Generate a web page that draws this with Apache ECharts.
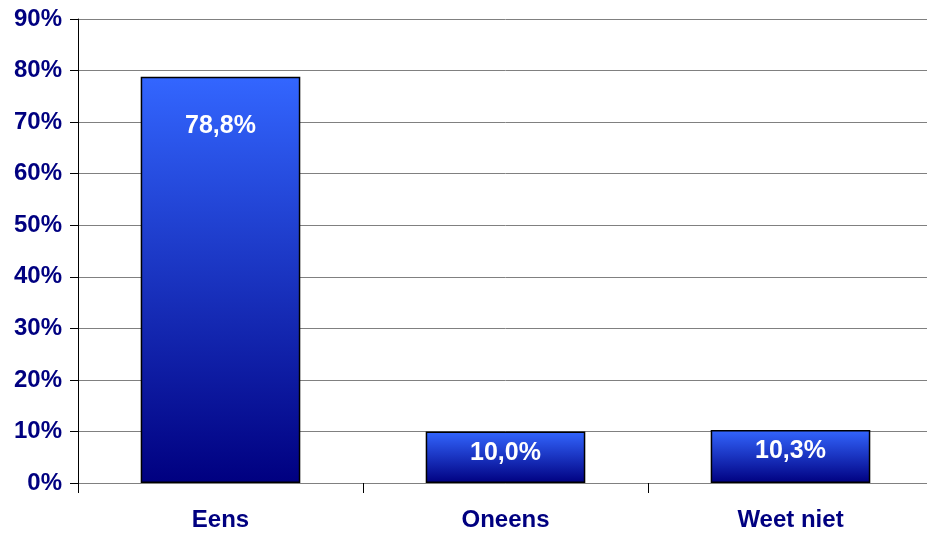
<!DOCTYPE html>
<html>
<head>
<meta charset="utf-8">
<script src="https://cdn.jsdelivr.net/npm/echarts@6/dist/echarts.min.js"></script>
<style>html,body{margin:0;padding:0;background:#fff;overflow:hidden}#c{width:933px;height:533px}</style>
</head>
<body>
<div id="c"></div>
<script>
var categories = ['Eens', 'Oneens', 'Weet niet'];
var values = [78.8, 10.0, 10.3];
var yTicks = [0, 10, 20, 30, 40, 50, 60, 70, 80, 90];

var chart = echarts.init(document.getElementById('c'), null, {renderer: 'canvas'});
var grad = new echarts.graphic.LinearGradient(0, 0, 0, 1, [
  {offset: 0, color: '#3366FF'},
  {offset: 1, color: '#000080'}
]);
var labelDist = [37, 9, 9];
chart.setOption({
  animation: false,
  backgroundColor: '#ffffff',
  grid: {left: 78, right: 0, top: 19, bottom: 50, containLabel: false},
  xAxis: {
    type: 'category',
    data: categories,
    boundaryGap: true,
    axisLine: {show: true, lineStyle: {color: '#808080', width: 1}},
    axisTick: {show: true, length: 10, lineStyle: {color: '#000', width: 1}},
    axisLabel: {
      color: '#000080', fontFamily: 'Liberation Sans, Arial, sans-serif',
      fontWeight: 'bold', fontSize: 24, margin: 25
    }
  },
  yAxis: {
    type: 'value',
    min: yTicks[0], max: yTicks[yTicks.length - 1], interval: 10,
    axisLine: {show: true, lineStyle: {color: '#000', width: 1}},
    axisTick: {show: true, length: 8, lineStyle: {color: '#000', width: 1}},
    splitLine: {show: true, lineStyle: {color: '#808080', width: 1}},
    axisLabel: {
      formatter: '{value}%', color: '#000080',
      fontFamily: 'Liberation Sans, Arial, sans-serif',
      fontWeight: 'bold', fontSize: 24, margin: 16
    }
  },
  series: [{
    type: 'bar',
    barWidth: '56%',
    data: values.map(function (v, i) {
      return {
        value: v,
        label: {distance: labelDist[i]}
      };
    }),
    itemStyle: {color: grad, borderColor: '#000', borderWidth: 1.5},
    label: {
      show: true, position: 'insideTop',
      color: '#fff', fontFamily: 'Liberation Sans, Arial, sans-serif',
      fontWeight: 'bold', fontSize: 25,
      formatter: function (p) { return p.value.toFixed(1).replace('.', ',') + '%'; }
    }
  }]
});
</script>
</body>
</html>
